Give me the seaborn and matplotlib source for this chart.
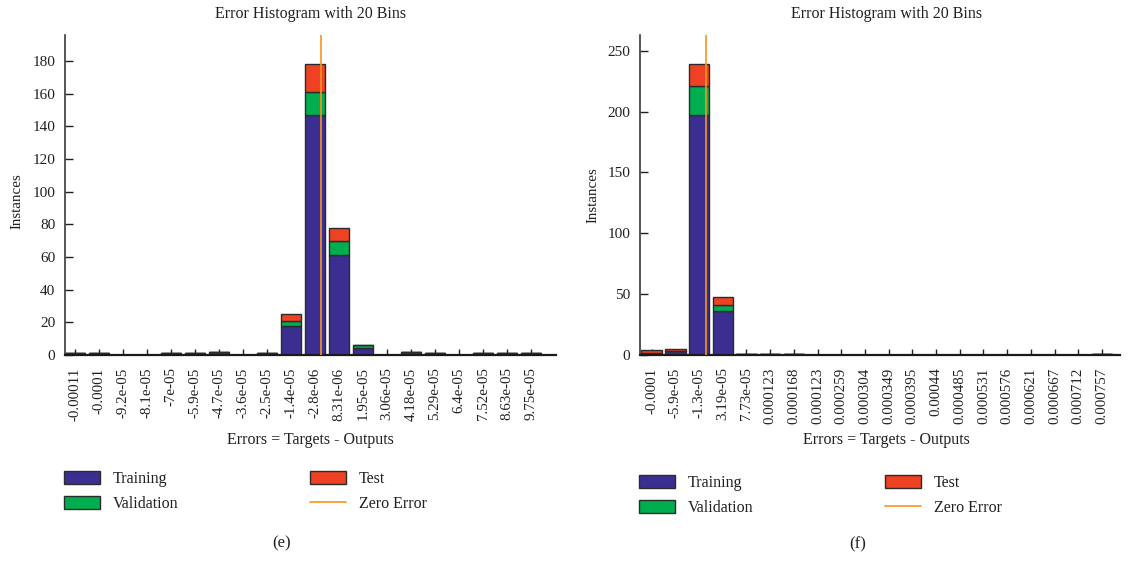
import numpy as np
import pandas as pd
import matplotlib
matplotlib.use("Agg")
import matplotlib.pyplot as plt
import seaborn as sns
from matplotlib.patches import Patch
from matplotlib.lines import Line2D

# ---------------- panel (e) ----------------
e_centers = [-1.1430e-04, -1.0315e-04, -9.200e-05, -8.086e-05, -6.971e-05,
             -5.856e-05, -4.741e-05, -3.627e-05, -2.512e-05, -1.397e-05,
             -2.83e-06, 8.31e-06, 1.946e-05, 3.060e-05, 4.176e-05,
             5.290e-05, 6.405e-05, 7.520e-05, 8.634e-05, 9.750e-05]
e_labels = ["-0.00011", "-0.0001", "-9.2e-05", "-8.1e-05", "-7e-05",
            "-5.9e-05", "-4.7e-05", "-3.6e-05", "-2.5e-05", "-1.4e-05",
            "-2.8e-06", "8.31e-06", "1.95e-05", "3.06e-05", "4.18e-05",
            "5.29e-05", "6.4e-05", "7.52e-05", "8.63e-05", "9.75e-05"]
e_training = [1, 1, 0, 0, 1, 1, 2, 0, 1, 18, 147, 61, 4, 0, 2, 1, 0, 1, 1, 1]
e_validation = [0, 0, 0, 0, 0, 0, 0, 0, 0, 3, 14, 9, 2, 0, 0, 0, 0, 0, 0, 0]
e_test = [0, 0, 0, 0, 0, 0, 0, 0, 0, 4, 17, 8, 0, 0, 0, 0, 0, 0, 0, 0]
e_yticks = [0, 20, 40, 60, 80, 100, 120, 140, 160, 180]

# ---------------- panel (f) ----------------
f_centers = [-1.0409e-04, -5.876e-05, -1.343e-05, 3.190e-05, 7.723e-05,
             1.2256e-04, 1.6789e-04, 2.1322e-04, 2.5855e-04, 3.0388e-04,
             3.4921e-04, 3.9454e-04, 4.3987e-04, 4.8520e-04, 5.3053e-04,
             5.7586e-04, 6.2119e-04, 6.6652e-04, 7.1185e-04, 7.5718e-04]
f_labels = ["-0.0001", "-5.9e-05", "-1.3e-05", "3.19e-05", "7.73e-05",
            "0.000123", "0.000168", "0.000123", "0.000259", "0.000304",
            "0.000349", "0.000395", "0.00044", "0.000485", "0.000531",
            "0.000576", "0.000621", "0.000667", "0.000712", "0.000757"]
f_training = [2, 3, 197, 36, 1, 1, 1, 0, 0, 0, 0, 0, 0, 0, 0, 0, 0, 0, 0, 1]
f_validation = [0, 0, 24, 5, 0, 0, 0, 0, 0, 0, 0, 0, 0, 0, 0, 0, 0, 0, 0, 0]
f_test = [2, 2, 18, 7, 0, 0, 0, 0, 0, 0, 0, 0, 0, 0, 0, 0, 0, 0, 0, 0]
f_yticks = [0, 50, 100, 150, 200, 250]

series = ["Training", "Validation", "Test"]
palette = {"Training": "#3a2f91", "Validation": "#00ad4f", "Test": "#ef4123"}
ZERO_COLOR = "#f7941d"
EDGE = "#2b2b2b"

sns.set_style("ticks")
plt.rcParams["font.family"] = ["Liberation Serif", "DejaVu Serif"]
plt.rcParams["text.color"] = "#231f20"
plt.rcParams["axes.labelcolor"] = "#231f20"
plt.rcParams["xtick.color"] = "#231f20"
plt.rcParams["ytick.color"] = "#231f20"

W, H = 1130, 561
fig = plt.figure(figsize=(W / 100, H / 100), dpi=100)


def px_axes(x0, x1, ytop, ybot):
    return fig.add_axes([x0 / W, 1 - ybot / H, (x1 - x0) / W, (ybot - ytop) / H])


def draw_panel(ax, centers, labels, training, validation, test, ymax, yticks,
               xpad, text_x, ylabel_y):
    centers = np.asarray(centers)
    width = np.mean(np.diff(centers))
    edges = np.concatenate([centers - width / 2, [centers[-1] + width / 2]]).tolist()
    df = pd.DataFrame({
        "error": np.tile(centers, 3),
        "count": np.concatenate([training, validation, test]),
        "set": np.repeat(series, len(centers)),
    })
    sns.histplot(data=df, x="error", weights="count", hue="set",
                 hue_order=["Test", "Validation", "Training"], multiple="stack",
                 bins=edges, shrink=0.86, palette=palette, edgecolor=EDGE,
                 linewidth=1.0, alpha=1, legend=False, ax=ax)
    ax.axvline(0, color=ZERO_COLOR, lw=1.2, zorder=4)

    ax.set_xlim(centers[0] + xpad[0] * width, centers[0] + xpad[1] * width)
    ax.set_ylim(0, ymax)
    ax.set_xticks(centers, labels, rotation=90)
    ax.set_yticks(yticks)
    ax.tick_params(axis="x", direction="in", length=4.5, width=1, pad=9, labelsize=10.8)
    ax.tick_params(axis="y", direction="in", length=5.5, width=1, pad=7, labelsize=11)
    sns.despine(ax=ax)
    ax.spines["left"].set_color("#3a3a3a")
    ax.spines["left"].set_linewidth(1.2)
    ax.spines["bottom"].set_color("#1a1a1a")
    ax.spines["bottom"].set_linewidth(1.6)

    ax.set_title("Error Histogram with 20 Bins", fontsize=11.5, x=text_x, y=1.0656,
                 pad=0, va="center")
    ax.set_xlabel("Errors = Targets - Outputs", fontsize=11.5)
    ax.xaxis.set_label_coords(text_x, -0.266)
    ax.xaxis.label.set_va("center")
    ax.set_ylabel("Instances", fontsize=10.8)
    ax.yaxis.set_label_coords(-0.098, ylabel_y)
    ax.yaxis.label.set_va("center")


ax_e = px_axes(65, 556, 35, 355)
draw_panel(ax_e, e_centers, e_labels, e_training, e_validation, e_test,
           196, e_yticks, (-0.42, 20.04), 0.5, 0.48)

ax_f = px_axes(640, 1120, 35, 355)
draw_panel(ax_f, f_centers, f_labels, f_training, f_validation, f_test,
           263, f_yticks, (-0.49, 19.76), 0.513, 0.50)


def patch(name):
    return Patch(facecolor=palette[name], edgecolor=EDGE, linewidth=1.0)


zero_handle = Line2D([0], [0], color=ZERO_COLOR, lw=1.2)
leg_kw = dict(loc="upper left", frameon=False, borderpad=0, borderaxespad=0,
              handlelength=2.25, handleheight=0.875, handletextpad=0.8,
              labelspacing=0.55, fontsize=11.5)


def add_legend(x_left, x_right, ytop):
    fig.legend([patch("Training"), patch("Validation")], ["Training", "Validation"],
               bbox_to_anchor=(x_left / W, 1 - ytop / H), **leg_kw)
    fig.legend([patch("Test"), zero_handle], ["Test", "Zero Error"],
               bbox_to_anchor=(x_right / W, 1 - ytop / H), **leg_kw)


add_legend(64, 310, 471)
add_legend(639, 885, 475)

fig.text(282 / W, 1 - 543 / H, "(e)", ha="center", va="center", fontsize=12)
fig.text(858 / W, 1 - 544 / H, "(f)", ha="center", va="center", fontsize=12)

fig.savefig("out.png", dpi=100, facecolor="white")
